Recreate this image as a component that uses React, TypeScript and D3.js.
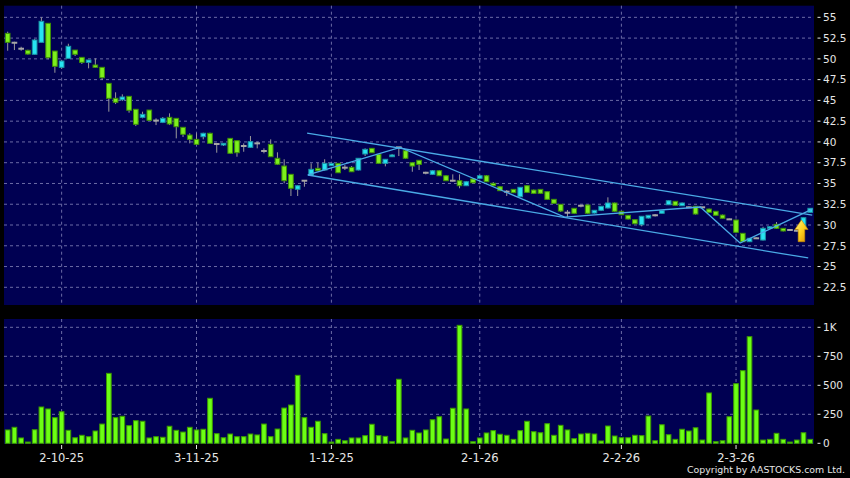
import React from 'react';
import * as d3 from 'd3';

const W = 850;
const H = 478;

const opens = [53.07,51.94,51.22,51.03,50.55,51.99,54.28,50.94,48.98,50.06,
51.06,50.18,49.58,49.26,48.98,47.05,45.25,45.08,45.49,43.93,
42.96,43.84,42.57,42.36,42.96,42.84,41.76,40.83,40.31,40.63,
41.04,39.75,39.63,40.43,40.15,39.51,39.35,39.83,38.91,39.71,
38.03,37.10,36.10,34.30,35.33,36.02,36.82,36.62,37.14,37.42,
36.90,36.94,36.62,38.55,39.23,38.51,37.42,38.22,39.35,38.94,
37.50,37.79,36.29,36.10,36.53,35.93,35.33,35.33,34.73,35.54,
35.62,35.93,35.02,34.61,34.01,34.29,33.40,34.73,34.21,34.29,
34.01,33.09,32.49,31.48,32.01,32.32,32.41,31.44,31.77,32.05,
32.65,31.65,31.17,30.64,30.03,30.84,31.17,31.41,32.44,32.85,
32.32,32.13,32.25,32.13,31.92,31.65,31.20,30.68,30.60,29.00,
27.99,28.40,28.19,29.60,30.08,29.60,29.40,29.31,29.67,31.53];

const highs = [53.27,52.06,51.46,51.10,52.39,55.00,54.31,50.94,49.86,51.82,
51.06,50.20,49.86,50.06,48.98,47.05,45.97,45.73,45.49,43.93,
43.64,43.84,42.84,43.00,43.44,42.84,41.76,41.04,41.04,41.11,
41.11,39.81,39.87,40.47,40.15,39.83,40.71,40.03,39.23,40.31,
38.75,37.91,36.10,34.81,35.35,37.42,37.50,37.91,37.52,37.46,
37.22,37.10,38.06,39.23,39.27,38.55,37.94,38.55,39.39,39.03,
37.58,37.82,36.41,36.62,36.62,36.02,36.10,36.10,35.30,35.66,
36.02,36.02,35.17,34.69,34.21,34.33,34.57,34.81,34.27,34.33,
34.03,33.13,32.53,31.80,32.04,32.41,32.47,31.80,32.29,33.33,
32.71,31.68,31.20,30.66,31.08,31.20,31.32,31.74,32.95,32.89,
32.71,32.23,32.29,32.17,31.98,31.68,31.26,30.78,30.66,29.03,
28.43,28.52,29.79,29.88,30.36,29.64,29.46,29.40,30.90,32.04];

const lows = [50.98,51.06,50.98,50.50,50.50,51.97,49.94,48.33,48.81,50.06,
50.34,49.38,48.86,48.90,47.45,43.64,44.56,44.92,43.52,41.91,
42.84,42.52,42.03,42.27,42.03,40.43,40.59,39.83,39.63,40.31,
39.81,38.70,39.51,38.55,38.22,38.82,39.27,39.23,38.63,38.22,
37.22,35.02,33.49,33.49,34.61,35.96,36.50,36.56,37.10,36.26,
36.62,36.38,36.56,38.30,38.67,37.34,37.06,38.18,38.30,37.94,
36.41,36.62,36.10,36.02,35.90,35.30,35.23,34.42,34.69,35.05,
35.53,35.17,34.69,34.09,33.49,33.85,33.37,33.85,33.73,33.73,
33.01,32.53,31.56,30.93,31.32,32.13,31.32,31.38,31.68,31.98,
31.56,31.20,30.66,30.12,29.84,30.78,31.02,31.38,32.41,32.35,
32.29,32.04,31.26,32.04,31.47,31.14,30.78,30.60,29.06,27.95,
27.95,28.31,28.13,29.52,29.52,29.22,29.34,29.22,29.64,31.50];

const closes = [51.99,51.94,51.22,50.58,52.27,54.52,50.14,49.10,49.74,51.51,
50.55,49.58,49.86,48.98,47.73,45.25,44.77,45.41,43.81,42.12,
43.32,42.60,42.57,42.84,42.16,41.83,40.92,40.31,39.71,41.04,
39.83,39.75,39.83,38.63,38.70,39.51,40.03,39.83,38.91,38.22,
37.31,35.33,34.42,34.73,35.33,36.70,36.53,37.42,37.42,36.29,
36.90,36.41,38.03,39.11,38.70,37.42,37.91,38.43,39.35,38.03,
37.10,37.30,36.29,36.53,35.93,35.33,35.33,34.73,35.21,35.09,
35.93,35.21,34.73,34.13,34.01,33.89,34.54,33.93,33.81,33.81,
33.09,32.61,31.68,31.48,31.41,32.32,31.41,31.77,32.25,32.65,
31.65,31.24,30.72,30.15,31.05,31.17,31.17,31.72,32.92,32.37,
32.65,32.13,31.32,32.13,31.53,31.17,30.81,30.68,29.12,27.99,
28.40,28.40,29.60,29.79,29.60,29.28,29.40,29.31,30.88,32.01];

const volumes = [115,138,46,11,117,313,296,221,272,112,
48,69,57,106,166,603,221,233,152,195,
190,46,57,52,147,112,97,138,115,121,
388,83,48,80,57,57,80,72,166,57,
123,304,330,586,221,138,190,83,11,34,
22,46,46,66,164,66,60,14,552,46,
112,89,115,203,229,37,302,1017,296,14,
46,89,109,78,69,34,109,190,100,91,
169,69,155,115,40,80,86,80,20,149,
63,48,48,69,66,235,22,160,74,34,
121,106,134,28,434,14,22,229,514,626,
919,287,28,34,86,34,11,28,91,34];

const dateLabels = ['2-10-25', '3-11-25', '1-12-25', '2-1-26', '2-2-26', '2-3-26'];
const dateIndex = [8, 28, 48, 70, 91, 108];
const priceTicks = [22.5, 25, 27.5, 30, 32.5, 35, 37.5, 40, 42.5, 45, 47.5, 50, 52.5, 55];
const volTicks = [0, 250, 500, 750, 1000];
const volTickLabels = ['0', '250', '500', '750', '1K'];

// trend lines: [bar index, price]
const upperChannel: [number, number][] = [[44.4, 41.07], [119.3, 31.2]];
const lowerChannel: [number, number][] = [[44.5, 36.02], [118.7, 26.03]];
const zigzag: [number, number][] = [[44.5, 36.02], [58.2, 39.35], [82.6, 30.96], [102.7, 32.17], [108.6, 27.83], [119.3, 31.92]];
const arrowAt: [number, number] = [117.7, 30.6];

const BG = '#000052';
const GRID = '#6b6ba6';
const TXT = '#e6e6e6';

export default function App() {
  const n = opens.length;
  const x = d3.scaleBand<number>().domain(d3.range(n)).range([4.3, 813.6]).paddingInner(0.16).paddingOuter(0.08);
  const bw = x.bandwidth();
  const step = x.step();
  const cx = (i: number) => (x(0) as number) + bw / 2 + i * step;

  const py = d3.scaleLinear().domain([20.37, 56.4]).range([305, 5.7]);
  const vy = d3.scaleLinear().domain([0, 1071.6]).range([443.3, 319]);

  const lineGen = d3.line<[number, number]>().x((d) => cx(d[0])).y((d) => py(d[1]));

  const pTop = 5.7, pBot = 305, vTop = 319, vBot = 444, left = 4, right = 814;

  const [ax, ay] = [cx(arrowAt[0]), py(arrowAt[1])];
  const arrowPts = [[0, 0], [6.6, 9.5], [3.3, 9.5], [3.3, 21.7], [-3.3, 21.7], [-3.3, 9.5], [-6.6, 9.5]]
    .map((p) => `${ax + p[0]},${ay + p[1]}`).join(' ');

  return (
    <svg width={W} height={H} style={{ position: 'absolute', left: 0, top: 0, display: 'block', background: '#000' }}
      fontFamily="DejaVu Sans, Verdana, sans-serif">
      <defs>
        <linearGradient id="arrG" x1="0" y1="0" x2="1" y2="1">
          <stop offset="0" stopColor="#fff58a" />
          <stop offset="0.5" stopColor="#ffd21f" />
          <stop offset="1" stopColor="#d98a00" />
        </linearGradient>
      </defs>
      <rect x={0} y={0} width={W} height={H} fill="#000" />
      {/* panels */}
      <rect x={left} y={pTop} width={right - left} height={pBot - pTop} fill={BG} />
      <rect x={left} y={vTop} width={right - left} height={vBot - vTop} fill={BG} />

      {/* grid price */}
      {priceTicks.map((t) => (
        <line key={'pg' + t} x1={left} x2={right} y1={py(t)} y2={py(t)} stroke={GRID} strokeWidth={1} strokeDasharray="3,3" />
      ))}
      {dateIndex.map((d) => (
        <line key={'pv' + d} x1={cx(d)} x2={cx(d)} y1={pTop} y2={pBot} stroke={GRID} strokeWidth={1} strokeDasharray="3,3" />
      ))}
      {/* grid volume */}
      {volTicks.filter((t) => t > 0).map((t) => (
        <line key={'vg' + t} x1={left} x2={right} y1={vy(t)} y2={vy(t)} stroke={GRID} strokeWidth={1} strokeDasharray="3,3" />
      ))}
      {dateIndex.map((d) => (
        <line key={'vv' + d} x1={cx(d)} x2={cx(d)} y1={vTop} y2={vBot} stroke={GRID} strokeWidth={1} strokeDasharray="3,3" />
      ))}

      {/* candles */}
      {opens.map((o, i) => {
        const c = closes[i];
        const x0 = x(i) as number;
        const mid = x0 + bw / 2;
        const doji = Math.abs(o - c) < 0.05;
        const up = c > o;
        const top = py(Math.max(o, c));
        const bot = py(Math.min(o, c));
        return (
          <g key={'c' + i}>
            <line x1={mid} x2={mid} y1={py(highs[i])} y2={py(lows[i])} stroke="#9a9a9a" strokeWidth={1} />
            {doji ? (
              <rect x={x0} y={top - 1} width={bw} height={2} fill="#a6a6a6" />
            ) : (
              <rect x={x0 + 0.5} y={top} width={bw - 1} height={Math.max(1, bot - top)}
                fill={up ? '#27e3f2' : '#7df01c'} stroke={up ? '#1b95a6' : '#3d8f08'} strokeWidth={1} />
            )}
          </g>
        );
      })}

      {/* trend lines */}
      {[upperChannel, lowerChannel, zigzag].map((l, k) => (
        <path key={'tl' + k} d={lineGen(l) as string} fill="none" stroke="#4aaae6" strokeWidth={1.3} />
      ))}

      {/* arrow */}
      <polygon points={arrowPts} fill="url(#arrG)" stroke="#c88a00" strokeWidth={0.6} />

      {/* volume bars */}
      {volumes.map((v, i) => (
        <rect key={'v' + i} x={(x(i) as number) + 0.5} y={vy(v)} width={bw - 1} height={vy(0) - vy(v)}
          fill="#6cff14" stroke="#3c9a00" strokeWidth={1} />
      ))}

      {/* price axis */}
      {priceTicks.map((t) => (
        <g key={'pt' + t}>
          <line x1={817.5} x2={820.5} y1={py(t)} y2={py(t)} stroke={TXT} strokeWidth={1} />
          <text x={823} y={py(t)} dy="0.36em" fill={TXT} fontSize={10.5}>{String(t)}</text>
        </g>
      ))}
      {/* volume axis */}
      {volTicks.map((t, k) => (
        <g key={'vt' + t}>
          <line x1={817.5} x2={820.5} y1={vy(t)} y2={vy(t)} stroke={TXT} strokeWidth={1} />
          <text x={823} y={vy(t)} dy="0.36em" fill={TXT} fontSize={10.5}>{volTickLabels[k]}</text>
        </g>
      ))}
      {/* date axis */}
      {dateIndex.map((d, k) => (
        <g key={'dt' + d}>
          <line x1={cx(d)} x2={cx(d)} y1={445} y2={449} stroke={TXT} strokeWidth={1} />
          <text x={cx(d)} y={462} textAnchor="middle" fill={TXT} fontSize={11.5}>{dateLabels[k]}</text>
        </g>
      ))}
      <text x={845} y={473} textAnchor="end" fill={TXT} fontSize={9.5} textLength={158} lengthAdjust="spacingAndGlyphs">
        Copyright by AASTOCKS.com Ltd.
      </text>
    </svg>
  );
}
